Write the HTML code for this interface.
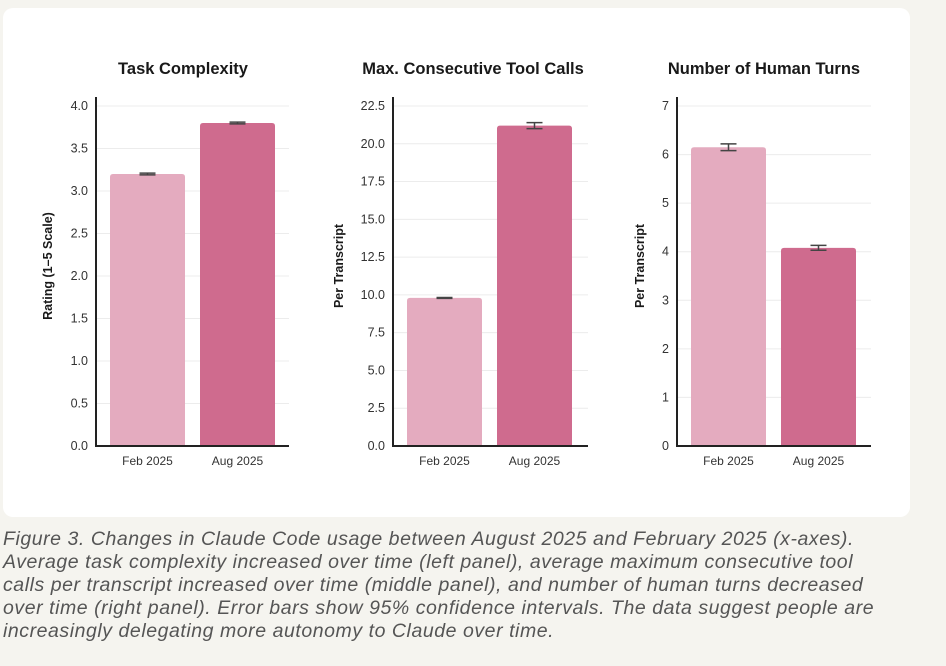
<!DOCTYPE html>
<html><head><meta charset="utf-8"><style>
body{margin:0;width:946px;height:666px;background:#f5f4ef;overflow:hidden;font-family:"Liberation Sans",sans-serif;}
#card{position:absolute;left:3px;top:8px;width:907px;height:509px;background:#fff;border-radius:10px;}
#cap{position:absolute;left:3px;top:528px;width:940px;font-style:italic;font-size:19.5px;letter-spacing:0.55px;line-height:23px;color:#555;white-space:nowrap;}
svg{position:absolute;left:0;top:0;}
</style></head><body>
<div id="card"></div>
<svg id="chart" width="946" height="666"></svg>
<div id="cap">Figure 3. Changes in Claude Code usage between August 2025 and February 2025 (x-axes).<br>Average task complexity increased over time (left panel), average maximum consecutive tool<br>calls per transcript increased over time (middle panel), and number of human turns decreased<br>over time (right panel). Error bars show 95% confidence intervals. The data suggest people are<br>increasingly delegating more autonomy to Claude over time.</div>
<script>
const categories=["Feb 2025","Aug 2025"];
const titles=["Task Complexity","Max. Consecutive Tool Calls","Number of Human Turns"];
const yTitles=["Rating (1\u20135 Scale)","Per Transcript","Per Transcript"];
const complexityValues=[3.2,3.8];
const complexityErr=[0.01,0.01];
const toolValues=[9.8,21.2];
const toolErr=[0.03,0.2];
const turnsValues=[6.15,4.08];
const turnsErr=[0.07,0.05];
const complexityTicks=["0.0","0.5","1.0","1.5","2.0","2.5","3.0","3.5","4.0"];
const toolTicks=["0.0","2.5","5.0","7.5","10.0","12.5","15.0","17.5","20.0","22.5"];
const turnsTicks=["0","1","2","3","4","5","6","7"];
const colors=["#e4abbf","#cf6b8e"];
const panels=[
 {ax:96,right:289,max:4,ticks:complexityTicks,vals:complexityValues,err:complexityErr,ylx:52,tx:183},
 {ax:393,right:588,max:22.5,ticks:toolTicks,vals:toolValues,err:toolErr,ylx:343,tx:473},
 {ax:677,right:871,max:7,ticks:turnsTicks,vals:turnsValues,err:turnsErr,ylx:644,tx:764}
];
const svg=document.getElementById('chart');
const NS="http://www.w3.org/2000/svg";
function mk(t,a,p){const e=document.createElementNS(NS,t);for(const k in a)e.setAttribute(k,a[k]);(p||svg).appendChild(e);return e;}
const plotTop=106,plotBot=446;
panels.forEach((p,i)=>{
 const g=mk('g',{});
 
 
 const y=v=>plotBot-(v/p.max)*(plotBot-plotTop);
 p.ticks.forEach(t=>{
  const v=parseFloat(t),yy=y(v);
  if(v>0){const l=mk('line',{x1:p.ax,x2:p.right,y1:yy,y2:yy,stroke:'#ececec','stroke-width':1},g);
   
   }
  const tx=mk('text',{x:p.ax-8,y:yy+4,'text-anchor':'end','font-size':12.5,fill:'#333'},g);
  tx.textContent=t;
  
  
 });
 const bw=75,gap=15,start=p.ax+14;
 p.vals.forEach((v,j)=>{
  const x=start+j*(bw+gap);
  const r=mk('path',{d:`M${x},${plotBot}V${y(v)+3}Q${x},${y(v)} ${x+3},${y(v)}H${x+bw-3}Q${x+bw},${y(v)} ${x+bw},${y(v)+3}V${plotBot}Z`,fill:colors[j]},g);
  
  
  const cx=x+bw/2,e=p.err[j];
  const eb=mk('path',{d:`M${cx-8},${y(v+e)}H${cx+8}M${cx},${y(v+e)}V${y(v-e)}M${cx-8},${y(v-e)}H${cx+8}`,stroke:'#444','stroke-width':1.5,fill:'none'},g);
  
  
  const lt=mk('text',{x:cx,y:465,'text-anchor':'middle','font-size':12,fill:'#333'},g);
  lt.textContent=categories[j];
  
  
 });
 const ax=mk('path',{d:`M${p.ax},97V${plotBot}H${p.right}`,stroke:'#222','stroke-width':2,fill:'none'},g);
 
 
 const tt=mk('text',{x:p.tx,y:74,'text-anchor':'middle','font-size':16.5,'font-weight':'bold',fill:'#191919'},g);
 tt.textContent=titles[i];
 
 
 const yt=mk('text',{x:0,y:0,'text-anchor':'middle','font-size':12.5,'font-weight':'bold',fill:'#191919',transform:`translate(${p.ylx},${(plotTop+plotBot)/2-10}) rotate(-90)`},g);
 yt.textContent=yTitles[i];
 
 
});
</script>
</body></html>
